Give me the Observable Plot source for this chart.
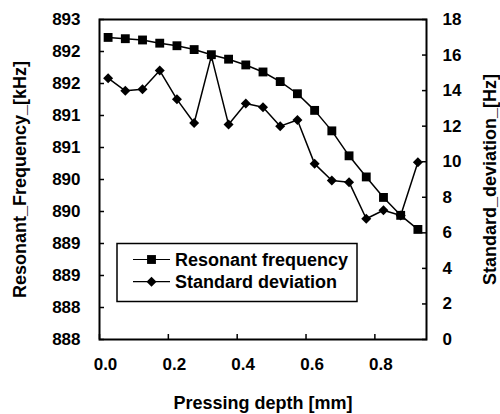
<!DOCTYPE html>
<html><head><meta charset="utf-8">
<script src="https://cdn.jsdelivr.net/npm/d3@7"></script>
<script src="https://cdn.jsdelivr.net/npm/@observablehq/plot@0.6"></script>
<style>
html,body{margin:0;padding:0;background:#fff;}
#chart svg{display:block;}
</style></head><body><div id="chart"></div>
<script>
// Data
const depth = [0.025,0.075,0.125,0.175,0.225,0.275,0.325,0.375,0.425,0.475,0.525,0.575,0.625,0.675,0.725,0.775,0.825,0.875,0.925];
const freqKHz = [892.72,892.70,892.68,892.63,892.59,892.53,892.45,892.38,892.29,892.18,892.03,891.84,891.58,891.26,890.87,890.54,890.22,889.94,889.72];
const stdevHz = [14.70,13.99,14.07,15.13,13.51,12.18,15.94,12.09,13.27,13.07,12.00,12.35,9.88,8.94,8.85,6.79,7.27,6.97,9.97];

const xTicks = [0, 0.2, 0.4, 0.6, 0.8];
const xTickLabels = ["0.0", "0.2", "0.4", "0.6", "0.8"];
const freqTicks = [888, 888.5, 889, 889.5, 890, 890.5, 891, 891.5, 892, 892.5, 893];
const freqTickLabels = ["888", "888", "889", "889", "890", "890", "891", "891", "892", "892", "893"];
const sdTicks = [0, 2, 4, 6, 8, 10, 12, 14, 16, 18];
const seriesNames = ["Resonant frequency", "Standard deviation"];
const xTitle = "Pressing depth [mm]";
const yLeftTitle = "Resonant_Frequency_[kHz]";
const yRightTitle = "Standard_deviation_[Hz]";

const freqDomain = [888, 893];
const sdDomain = [0, 18];
// map standard deviation onto the frequency scale (dual axis)
const sdToF = v => freqDomain[0] + (v - sdDomain[0]) * (freqDomain[1] - freqDomain[0]) / (sdDomain[1] - sdDomain[0]);
const sdTickPos = sdTicks.map(sdToF);

const freqRows = depth.map((d, i) => ({depth: d, value: freqKHz[i]}));
const sdRows = depth.map((d, i) => ({depth: d, value: sdToF(stdevHz[i]), sd: stdevHz[i]}));

const font = "'Liberation Sans', Arial, Helvetica, sans-serif";
const sqSize = Math.PI * 5 * 5;
const diSize = Math.PI * 4.5 * 4.5;

function legendMark(index, scales, values, dims) {
  const g = d3.create("svg:g");
  const L = dims.marginLeft, T = dims.marginTop;
  g.append("rect")
    .attr("x", L + 18).attr("y", T + 224.5)
    .attr("width", 240).attr("height", 58)
    .attr("fill", "white").attr("stroke", "black").attr("stroke-width", 1.5);
  const rows = [
    {name: seriesNames[0], sym: d3.symbolSquare, size: sqSize, cy: T + 240.5},
    {name: seriesNames[1], sym: d3.symbolDiamond2, size: diSize, cy: T + 262.7}
  ];
  for (const r of rows) {
    g.append("line").attr("x1", L + 34).attr("x2", L + 71)
      .attr("y1", r.cy).attr("y2", r.cy).attr("stroke", "black").attr("stroke-width", 1.2);
    g.append("path").attr("d", d3.symbol(r.sym, r.size)())
      .attr("transform", `translate(${L + 52.5},${r.cy})`).attr("fill", "black");
    g.append("text").attr("x", L + 76).attr("y", r.cy + 6.3)
      .attr("text-anchor", "start")
      .attr("font-size", 18).attr("font-weight", "bold").attr("font-family", font)
      .attr("fill", "black").text(r.name);
  }
  return g.node();
}

const chart = Plot.plot({
  width: 500,
  height: 414,
  marginLeft: 99,
  marginRight: 74,
  marginTop: 19,
  marginBottom: 75,
  style: {fontFamily: font, fontSize: "17px", fontWeight: "bold", color: "black", background: "white"},
  x: {domain: [0, 0.95]},
  y: {domain: freqDomain},
  marks: [
    // tick marks (inward)
    Plot.axisX({ticks: xTicks, tickSize: -5, fill: "none", label: null, strokeWidth: 1.5}),
    Plot.axisY({anchor: "left", ticks: freqTicks, tickSize: -5, fill: "none", label: null, strokeWidth: 1.5}),
    Plot.axisY({anchor: "right", ticks: sdTickPos, tickSize: -5, fill: "none", label: null, strokeWidth: 1.5}),
    // tick labels
    Plot.axisX({ticks: xTicks, tickSize: 0, tickPadding: 18, dx: 6, label: null,
      tickFormat: d => xTickLabels[xTicks.indexOf(d)]}),
    Plot.axisY({anchor: "left", ticks: freqTicks, tickSize: 0, tickPadding: 19, label: null,
      tickFormat: d => freqTickLabels[freqTicks.indexOf(d)]}),
    Plot.axisY({anchor: "right", ticks: sdTickPos, tickSize: 0, tickPadding: 16, label: null,
      tickFormat: d => String(sdTicks[sdTickPos.indexOf(d)])}),
    // axis titles
    Plot.text([xTitle], {frameAnchor: "bottom", dy: 69, lineAnchor: "bottom", textAnchor: "middle", fontSize: 18, fontWeight: "bold", text: d => d}),
    Plot.text([yLeftTitle], {frameAnchor: "left", dx: -79, rotate: -90, lineAnchor: "middle", textAnchor: "middle", fontSize: 18, fontWeight: "bold", text: d => d}),
    Plot.text([yRightTitle], {frameAnchor: "right", dx: 64, rotate: -90, lineAnchor: "middle", textAnchor: "middle", fontSize: 18, fontWeight: "bold", text: d => d}),
    // series
    Plot.line(freqRows, {x: "depth", y: "value", stroke: "black", strokeWidth: 1.5}),
    Plot.dot(freqRows, {x: "depth", y: "value", symbol: "square", r: 5, fill: "black", stroke: "none"}),
    Plot.line(sdRows, {x: "depth", y: "value", stroke: "black", strokeWidth: 1.5}),
    Plot.dot(sdRows, {x: "depth", y: "value", symbol: "diamond2", r: 4.5, fill: "black", stroke: "none"}),
    Plot.frame({stroke: "black", strokeWidth: 2}),
    legendMark
  ]
});
document.getElementById("chart").appendChild(chart);
</script>
</body></html>
